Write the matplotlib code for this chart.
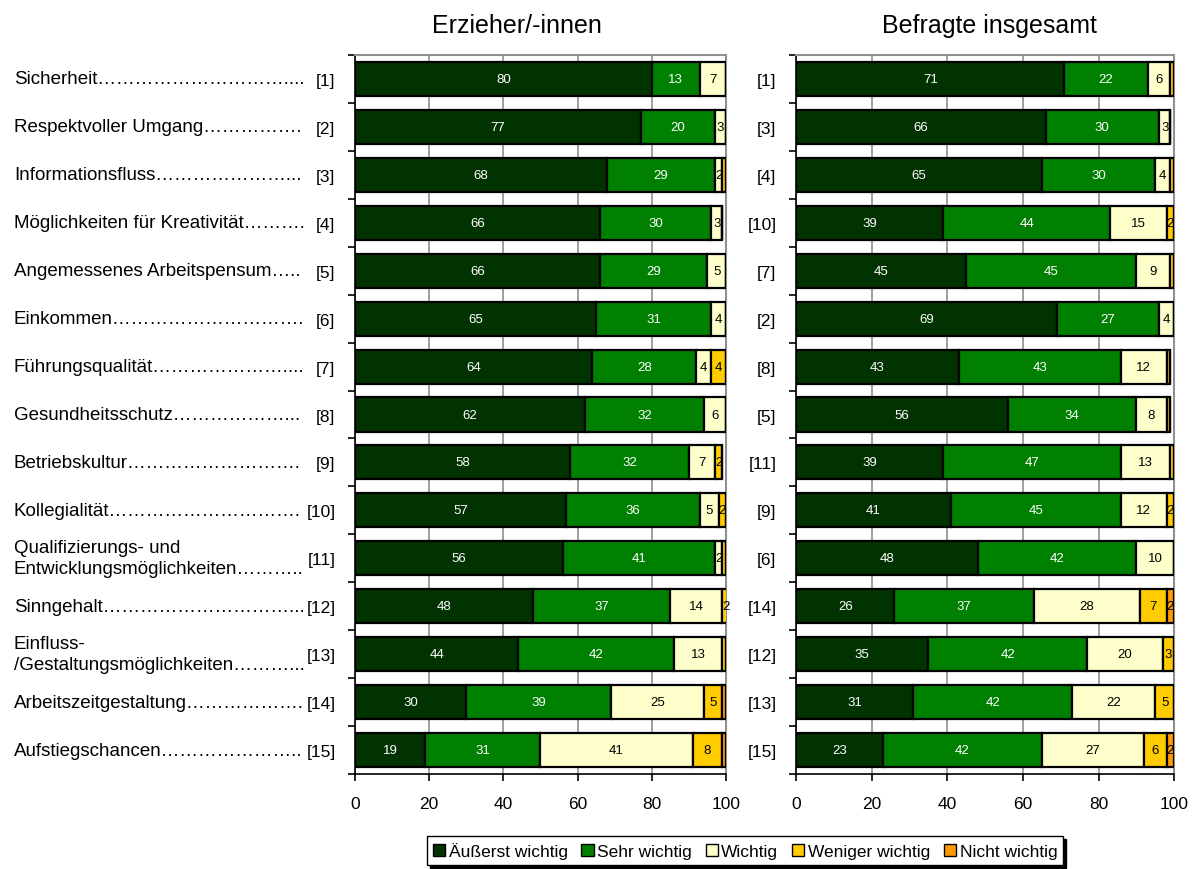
import numpy as np
import matplotlib
matplotlib.use("Agg")
import matplotlib.pyplot as plt
from matplotlib.patches import Patch
from matplotlib.transforms import blended_transform_factory

plt.rcParams["font.family"] = ["Liberation Sans", "DejaVu Sans"]

# Daten
kategorien = [
    "Sicherheit",
    "Respektvoller Umgang",
    "Informationsfluss",
    "Möglichkeiten für Kreativität",
    "Angemessenes Arbeitspensum",
    "Einkommen",
    "Führungsqualität",
    "Gesundheitsschutz",
    "Betriebskultur",
    "Kollegialität",
    "Qualifizierungs- und\nEntwicklungsmöglichkeiten",
    "Sinngehalt",
    "Einfluss-\n/Gestaltungsmöglichkeiten",
    "Arbeitszeitgestaltung",
    "Aufstiegschancen",
]
stufen = ["Äußerst wichtig", "Sehr wichtig", "Wichtig", "Weniger wichtig", "Nicht wichtig"]
farben = ["#003300", "#008000", "#FFFFCC", "#FFCC00", "#FF9900"]

rang_links = ["[1]", "[2]", "[3]", "[4]", "[5]", "[6]", "[7]", "[8]", "[9]", "[10]",
              "[11]", "[12]", "[13]", "[14]", "[15]"]
rang_rechts = ["[1]", "[3]", "[4]", "[10]", "[7]", "[2]", "[8]", "[5]", "[11]", "[9]",
               "[6]", "[14]", "[12]", "[13]", "[15]"]

# Erzieher/-innen
erz_aeusserst = [80, 77, 68, 66, 66, 65, 64, 62, 58, 57, 56, 48, 44, 30, 19]
erz_sehr = [13, 20, 29, 30, 29, 31, 28, 32, 32, 36, 41, 37, 42, 39, 31]
erz_wichtig = [7, 3, 2, 3, 5, 4, 4, 6, 7, 5, 2, 14, 13, 25, 41]
erz_weniger = [0, 0, 1, 0, 0, 0, 4, 0, 2, 2, 1, 2, 1, 5, 8]
erz_nicht = [0, 0, 0, 0, 0, 0, 0, 0, 0, 0, 0, 0, 0, 1, 1]

# Befragte insgesamt
ges_aeusserst = [71, 66, 65, 39, 45, 69, 43, 56, 39, 41, 48, 26, 35, 31, 23]
ges_sehr = [22, 30, 30, 44, 45, 27, 43, 34, 47, 45, 42, 37, 42, 42, 42]
ges_wichtig = [6, 3, 4, 15, 9, 4, 12, 8, 13, 12, 10, 28, 20, 22, 27]
ges_weniger = [1, 0, 1, 2, 1, 0, 1, 1, 1, 2, 0, 7, 3, 5, 6]
ges_nicht = [0, 0, 0, 0, 0, 0, 0, 0, 0, 0, 0, 2, 0, 1, 2]

fig = plt.figure(figsize=(11.96, 8.70), dpi=100)
ax1 = fig.add_axes([0.2968, 0.1092, 0.3102, 0.8264])
ax2 = fig.add_axes([0.6656, 0.1092, 0.3161, 0.8264])


def zeichne(ax, serien, raenge):
    y = np.arange(len(raenge))
    links = np.zeros(len(raenge))
    for werte, farbe in zip(serien, farben):
        werte = np.array(werte, dtype=float)
        bars = ax.barh(y, werte, left=links, height=0.71, color=farbe,
                       edgecolor="black", linewidth=1.6, zorder=3)
        textfarbe = "white" if farbe in ("#003300", "#008000") else "black"
        for b, w in zip(bars, werte):
            if w >= 2:
                ax.text(b.get_x() + b.get_width() / 2, b.get_y() + b.get_height() / 2,
                        f"{int(w)}", ha="center", va="center", fontsize=9.5,
                        color=textfarbe, zorder=4)
        links += werte
    ax.set_xlim(0, 100)
    ax.set_ylim(len(raenge) - 0.5, -0.5)
    ax.set_xticks(range(0, 101, 20))
    ax.tick_params(axis="x", direction="out", length=5, width=1.2, pad=11, labelsize=12.5)
    ax.set_yticks(y)
    ax.set_yticklabels(raenge, fontsize=12.5)
    ax.set_yticks(np.arange(-0.5, len(raenge)), minor=True)
    ax.tick_params(axis="y", which="major", length=0, pad=14)
    ax.tick_params(axis="y", which="minor", length=5, width=1.2, direction="out")
    ax.grid(axis="x", color="#909090", linewidth=1.2, zorder=0)
    ax.set_axisbelow(True)
    for s in ["top", "right"]:
        ax.spines[s].set_color("#909090")
        ax.spines[s].set_linewidth(1.5)
    for s in ["left", "bottom"]:
        ax.spines[s].set_color("black")
        ax.spines[s].set_linewidth(1.2)


zeichne(ax1, [erz_aeusserst, erz_sehr, erz_wichtig, erz_weniger, erz_nicht], rang_links)
zeichne(ax2, [ges_aeusserst, ges_sehr, ges_wichtig, ges_weniger, ges_nicht], rang_rechts)

# Kategorien links, mit Punkten bis kurz vor die Rangnummer aufgefüllt
renderer = fig.canvas.get_renderer()
trans = blended_transform_factory(fig.transFigure, ax1.transData)
for i, name in enumerate(kategorien):
    t = ax1.text(0.0117, i, name, transform=trans, ha="left", va="center",
                 fontsize=13.5, linespacing=1.3, clip_on=False)
    for zeichen, grenze in (("…", 302), (".", 305)):
        while True:
            alt = t.get_text()
            t.set_text(alt + zeichen)
            if t.get_window_extent(renderer).x1 > grenze:
                t.set_text(alt)
                break

fig.text(0.432, 0.970, "Erzieher/-innen", ha="center", va="center", fontsize=18)
fig.text(0.827, 0.970, "Befragte insgesamt", ha="center", va="center", fontsize=18)

handles = [Patch(facecolor=f, edgecolor="black", linewidth=1.0) for f in farben]
leg = fig.legend(handles, stufen, loc="upper center", bbox_to_anchor=(0.623, 0.048),
                 ncol=5, fontsize=12.5, frameon=True, fancybox=False,
                 shadow={"color": "black", "alpha": 1},
                 handlelength=0.7, handleheight=0.7, handletextpad=0.2, columnspacing=0.8,
                 borderpad=0.35, edgecolor="black")
leg.get_frame().set_linewidth(1.0)

fig.savefig("out.png", dpi=100)
